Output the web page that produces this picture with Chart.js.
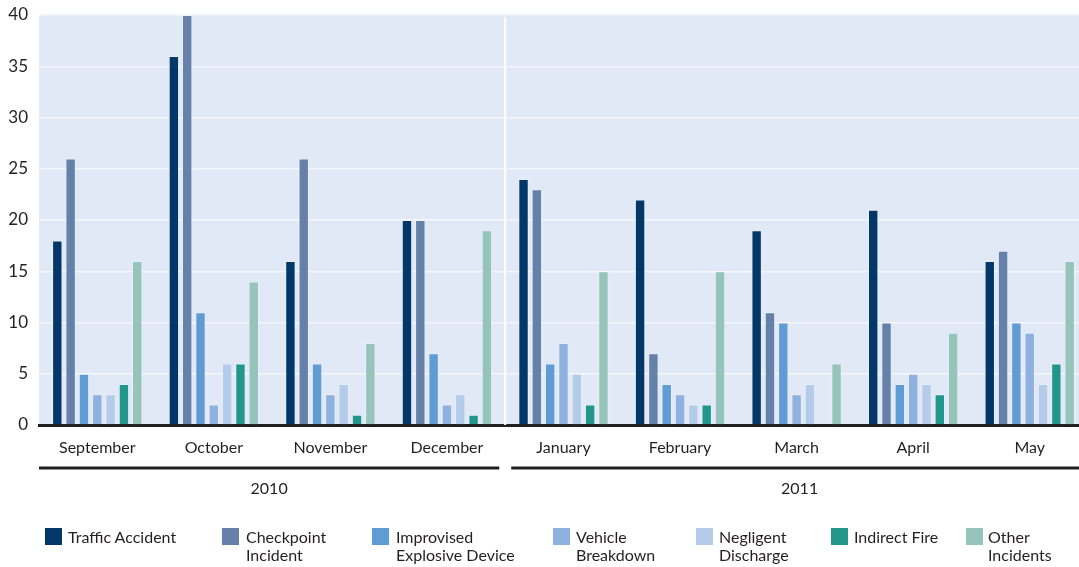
<!DOCTYPE html>
<html><head><meta charset="utf-8">
<script src="https://cdn.jsdelivr.net/npm/chart.js@4.4.1/dist/chart.umd.min.js"></script>
<style>
html,body{margin:0;padding:0;background:#fff;overflow:hidden;width:1079px;height:567px;}
#wrap{position:absolute;left:0;top:0;width:1090px;height:567px;}
.lg{position:absolute;top:528px;font-family:Lato, "Open Sans", sans-serif;font-size:16px;color:#231f20;line-height:18px;}
.sw{position:absolute;left:0;top:0;width:17px;height:17px;}
.tx{position:absolute;top:0;white-space:nowrap;}
</style></head><body>
<div id="wrap"><canvas id="c" width="1090" height="567"></canvas></div>
<div id="legend"></div>
<script>
// ---- data ----
const months = ['September','October','November','December','January','February','March','April','May'];
const years = ['2010','2011'];
const monthsPerYear = [4,5];
const trafficAccident = [18,36,16,20,24,22,19,21,16];
const checkpointIncident = [26,40,26,20,23,7,11,10,17];
const improvisedExplosiveDevice = [5,11,6,7,6,4,10,4,10];
const vehicleBreakdown = [3,2,3,2,8,3,3,5,9];
const negligentDischarge = [3,6,4,3,5,2,4,4,4];
const indirectFire = [4,6,1,1,2,2,0,3,6];
const otherIncidents = [16,14,8,19,15,15,6,9,16];
const seriesNames = ['Traffic Accident','Checkpoint Incident','Improvised Explosive Device','Vehicle Breakdown','Negligent Discharge','Indirect Fire','Other Incidents'];
const legendLines = [['Traffic Accident'],['Checkpoint','Incident'],['Improvised','Explosive Device'],['Vehicle','Breakdown'],['Negligent','Discharge'],['Indirect Fire'],['Other','Incidents']];
const yMin = 0, yMax = 40, yStep = 5;

// ---- styles ----
const colors = ['#033768','#6581a9','#609cd4','#8eb1df','#b5cbea','#22968a','#96c4bb'];
const legendLeft = [45,222,372,553,696,831,966];
const legendTextOffset = [23,24,24,23,23,23,22];
const FONT = 'Lato, "Open Sans", sans-serif';
const TEXT = '#231f20';

const seriesValues = [trafficAccident,checkpointIncident,improvisedExplosiveDevice,vehicleBreakdown,negligentDischarge,indirectFire,otherIncidents];

const datasets = seriesNames.map((n,i)=>({
  label:n, data:seriesValues[i], backgroundColor:colors[i],
  borderColor:'rgba(255,255,255,0.25)', borderWidth:{top:1,left:1,right:1,bottom:0},
  categoryPercentage:0.8, barPercentage:0.78
}));

const decor = {
  id:'decor',
  beforeDraw(chart){
    const {ctx, chartArea:a} = chart;
    ctx.save();
    ctx.fillStyle = '#e1e9f6';
    ctx.fillRect(a.left, a.top, a.right-a.left, a.bottom-a.top);
    ctx.restore();
  },
  beforeDatasetsDraw(chart){
    const {ctx, chartArea:a, scales:{x}} = chart;
    let idx = 0;
    ctx.save();
    ctx.strokeStyle = '#ffffff';
    ctx.lineWidth = 2;
    for (let g=0; g<monthsPerYear.length-1; g++){
      idx += monthsPerYear[g];
      const px = x.getPixelForValue(idx-0.5);
      ctx.beginPath(); ctx.moveTo(px, a.top+2); ctx.lineTo(px, a.bottom); ctx.stroke();
    }
    ctx.restore();
  },
  afterDraw(chart){
    const {ctx, scales:{x}} = chart;
    let start = 0;
    ctx.save();
    ctx.strokeStyle = TEXT;
    ctx.lineWidth = 3;
    ctx.fillStyle = TEXT;
    ctx.font = '16px ' + FONT;
    ctx.textAlign = 'center';
    ctx.textBaseline = 'middle';
    for (let g=0; g<years.length; g++){
      const end = start + monthsPerYear[g];
      let x0 = x.getPixelForValue(start-0.5);
      let x1 = x.getPixelForValue(end-0.5);
      if (g>0) x0 += 6;
      if (g<years.length-1) x1 -= 6;
      ctx.beginPath(); ctx.moveTo(x0, 468); ctx.lineTo(x1, 468); ctx.stroke();
      ctx.fillText(years[g], (x0+x1)/2, 489);
      start = end;
    }
    ctx.restore();
  }
};

new Chart(document.getElementById('c'), {
  type:'bar',
  data:{labels:months, datasets},
  options:{
    responsive:false, animation:false,
    layout:{padding:{top:15,right:2,left:0,bottom:0}},
    plugins:{legend:{display:false}, tooltip:{enabled:false}},
    scales:{
      x:{
        grid:{display:false, drawTicks:false},
        border:{display:true, color:TEXT, width:3},
        ticks:{color:TEXT, font:{family:FONT, size:16}, padding:13, maxRotation:0, autoSkip:false},
        afterFit(s){ s.height = 142; s.paddingLeft = 0; s.paddingRight = 0; }
      },
      y:{
        min:yMin, max:yMax,
        grid:{color:'#f4f7fc', lineWidth:1.5, drawTicks:false},
        border:{display:false},
        ticks:{stepSize:yStep, color:TEXT, font:{family:FONT, size:17}, padding:11},
        afterFit(s){ s.width = 39; s.paddingTop = 0; s.paddingBottom = 0; }
      }
    }
  },
  plugins:[decor]
});

// HTML legend
const lg = document.getElementById('legend');
seriesNames.forEach((n,i)=>{
  const d = document.createElement('div');
  d.className='lg'; d.style.left = legendLeft[i]+'px';
  const sw = document.createElement('div'); sw.className='sw'; sw.style.background=colors[i];
  const tx = document.createElement('div'); tx.className='tx'; tx.style.left = legendTextOffset[i]+'px';
  tx.innerHTML = legendLines[i].join('<br>');
  d.appendChild(sw); d.appendChild(tx); lg.appendChild(d);
});
</script>
</body></html>
